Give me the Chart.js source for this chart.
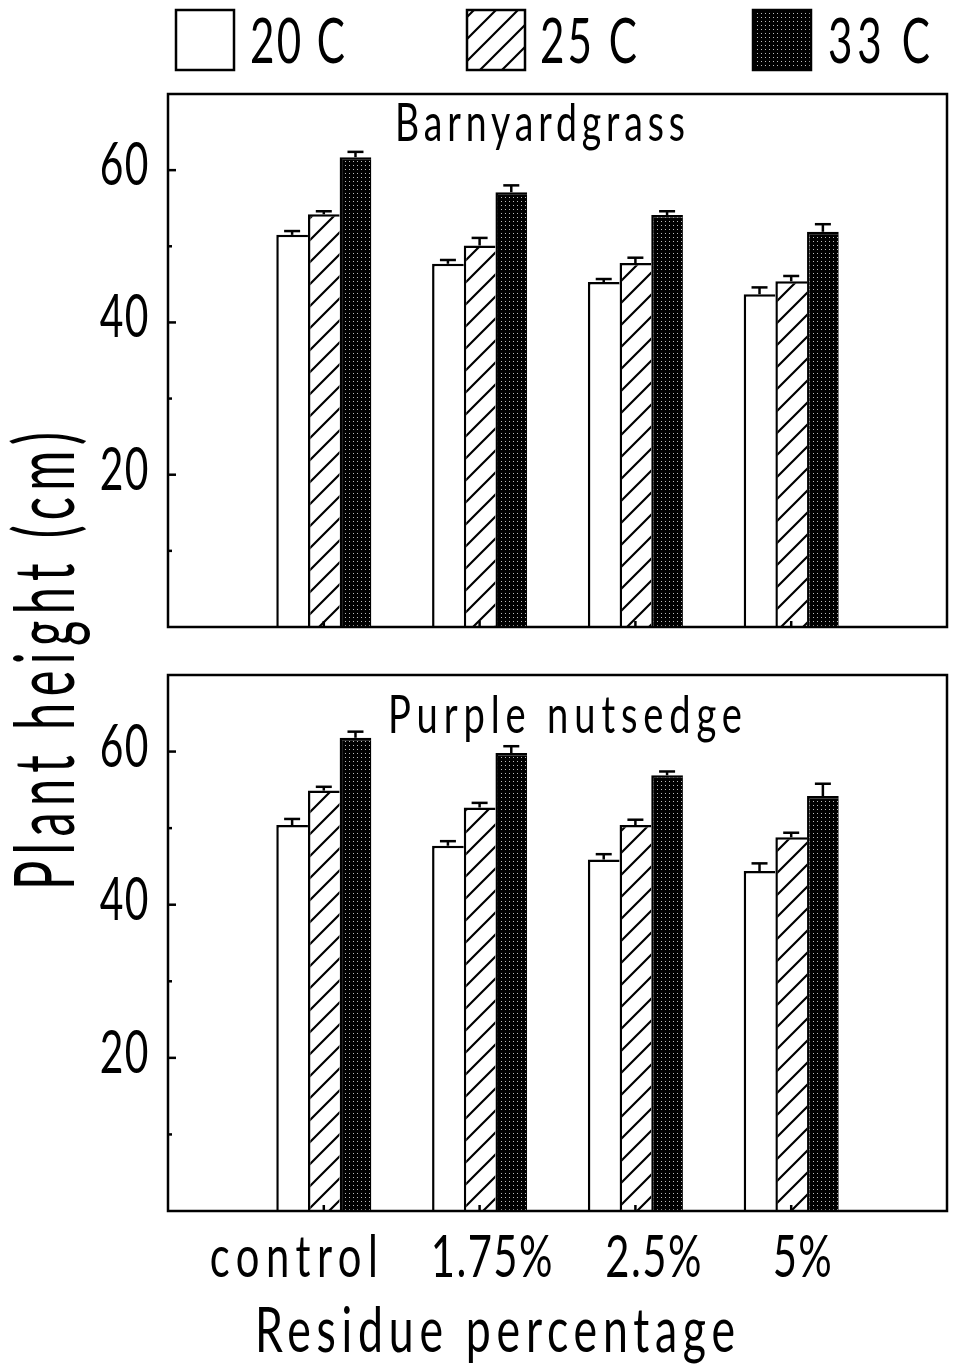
<!DOCTYPE html>
<html>
<head>
<meta charset="utf-8">
<script src="https://cdn.jsdelivr.net/npm/chart.js@4.4.1/dist/chart.umd.min.js"></script>
<style>
  html, body { margin: 0; padding: 0; background: #fff; }
  body { width: 955px; height: 1371px; position: relative; overflow: hidden; }
  canvas { position: absolute; left: 0; top: 0; }
</style>
</head>
<body>
<canvas id="panelTop" width="955" height="1371"></canvas>
<canvas id="panelBottom" width="955" height="1371"></canvas>
<script>
// categories / series / ticks
const categories = ['control', '1.75%', '2.5%', '5%'];
const seriesNames = ['20 C', '25 C', '33 C'];
const yTicks = [20, 40, 60];
const yMinorTicks = [10, 30, 50];

// Barnyardgrass - plant height (cm)
const barn20 = [51.5, 47.7, 45.3, 43.7];
const barn25 = [54.2, 50.1, 47.8, 45.4];
const barn33 = [61.7, 57.1, 54.1, 51.9];
const barn20Err = [0.5, 0.5, 0.4, 0.9];
const barn25Err = [0.4, 1.0, 0.7, 0.7];
const barn33Err = [0.7, 0.9, 0.5, 1.0];

// Purple nutsedge - plant height (cm)
const nut20 = [50.4, 47.7, 45.9, 44.4];
const nut25 = [54.9, 52.7, 50.4, 48.8];
const nut33 = [61.8, 59.8, 56.9, 54.2];
const nut20Err = [0.8, 0.6, 0.7, 1.0];
const nut25Err = [0.5, 0.6, 0.7, 0.6];
const nut33Err = [0.8, 0.9, 0.5, 1.6];

const FAMILY = 'Lato, "DejaVu Sans", sans-serif';

// fill patterns: open, hatched, stippled black
function hatchFill() {
    const c = document.createElement('canvas');
    c.width = c.height = 22;
    const g = c.getContext('2d');
    g.fillStyle = '#fff';
    g.fillRect(0, 0, 22, 22);
    g.strokeStyle = '#000';
    g.lineWidth = 2.2;
    g.beginPath();
    g.moveTo(-3, 25); g.lineTo(25, -3);
    g.moveTo(-3, 3); g.lineTo(3, -3);
    g.moveTo(19, 25); g.lineTo(25, 19);
    g.stroke();
    return g.createPattern(c, 'repeat');
}
function stippleFill() {
    const c = document.createElement('canvas');
    c.width = c.height = 4;
    const g = c.getContext('2d');
    g.fillStyle = '#000';
    g.fillRect(0, 0, 4, 4);
    g.fillStyle = '#bbb';
    g.fillRect(1, 1, 1, 1);
    return g.createPattern(c, 'repeat');
}
const fills = ['#fff', hatchFill(), stippleFill()];

// condensed text, spread out to a given width (never squeezed)
function fitText(ctx, text, x, y, width, size, sx, rot) {
    ctx.save();
    ctx.translate(x, y);
    if (rot) ctx.rotate(rot);
    ctx.scale(sx, 1);
    ctx.font = `400 ${size}px ${FAMILY}`;
    ctx.letterSpacing = '0px';
    const w0 = ctx.measureText(text).width;
    let gap = text.length > 1 ? (width / sx - w0) / (text.length - 1) : 0;
    gap = Math.max(gap, 2);
    const drawn = (w0 + gap * (text.length - 1)) * sx;
    ctx.letterSpacing = gap + 'px';
    ctx.textAlign = 'left';
    ctx.textBaseline = 'alphabetic';
    ctx.fillStyle = '#000';
    ctx.fillText(text, (width - drawn) / 2 / sx, 0);
    ctx.restore();
}

function seg(ctx, x1, y1, x2, y2) {
    ctx.beginPath();
    ctx.moveTo(x1, y1);
    ctx.lineTo(x2, y2);
    ctx.stroke();
}

const panelDecor = {
    id: 'panelDecor',
    afterDatasetsDraw(chart, args, o) {
        const ctx = chart.ctx;
        const a = chart.chartArea;
        const x = chart.scales.x, y = chart.scales.y;
        ctx.save();
        ctx.strokeStyle = '#000';
        ctx.lineWidth = 2.5;

        // error bars (upper only)
        chart.data.datasets.forEach((ds, di) => {
            chart.getDatasetMeta(di).data.forEach((bar, i) => {
                const v = ds.data[i], e = ds.errors[i];
                if (v == null || e == null) return;
                const yt = y.getPixelForValue(v + e);
                seg(ctx, bar.x, bar.y, bar.x, yt);
                seg(ctx, bar.x - 8, yt, bar.x + 8, yt);
            });
        });

        // frame
        ctx.strokeRect(a.left, a.top, a.right - a.left, a.bottom - a.top);

        // inward ticks
        yTicks.forEach(v => {
            const p = y.getPixelForValue(v);
            seg(ctx, a.left, p, a.left + 8, p);
        });
        yMinorTicks.forEach(v => {
            const p = y.getPixelForValue(v);
            seg(ctx, a.left, p, a.left + 4, p);
        });
        categories.forEach((c, i) => {
            const p = x.getPixelForValue(i + 1);
            seg(ctx, p, a.bottom, p, a.bottom - 6);
        });

        // y tick labels
        yTicks.forEach(v => {
            const p = y.getPixelForValue(v);
            const s = String(v);
            fitText(ctx, s, a.left - 22 - 22 * s.length, p + 15, 22 * s.length, 60, 0.68);
        });

        // panel title
        const t = o.title;
        fitText(ctx, t.text, t.x, t.y, t.width, t.size, 0.72);

        if (o.legend) {
            chart.data.datasets.forEach((ds, di) => {
                const bx = o.legend.boxX[di], tx = o.legend.textX[di];
                ctx.fillStyle = ds.backgroundColor;
                ctx.fillRect(bx, 10, 58, 60);
                ctx.strokeRect(bx, 10, 58, 60);
                fitText(ctx, ds.label, tx, 63, o.legend.textW[di], 62, 0.68);
            });
        }

        if (o.xLabels) {
            categories.forEach((c, i) => {
                const w = 24 * c.length;
                const cx = x.getPixelForValue(i + 1) + o.xLabels.shift[i];
                fitText(ctx, c, cx - w / 2, 1277, w, 58, 0.72);
            });
            fitText(ctx, 'Residue percentage', 255, 1352, 480, 62, 0.72);
            fitText(ctx, 'Plant height (cm)', 74, 890, 458, 84, 0.58, -Math.PI / 2);
        }
        ctx.restore();
    }
};

function buildDatasets(values, errors) {
    return seriesNames.map((name, s) => ({
        label: name,
        data: [null, ...values[s], null],
        errors: [null, ...errors[s], null],
        backgroundColor: fills[s],
        borderColor: '#000',
        borderWidth: { top: 2.5, left: 2.5, right: 0, bottom: 0 },
        borderSkipped: false
    }));
}

function makePanel(id, values, errors, padding, decor) {
    const ctx = document.getElementById(id).getContext('2d');
    return new Chart(ctx, {
        type: 'bar',
        data: {
            labels: ['', ...categories, ''],
            datasets: buildDatasets(values, errors)
        },
        options: {
            responsive: false,
            animation: false,
            devicePixelRatio: 1,
            layout: { padding: padding },
            categoryPercentage: 0.61,
            barPercentage: 1.0,
            plugins: {
                legend: { display: false },
                tooltip: { enabled: false },
                panelDecor: decor
            },
            scales: {
                x: { type: 'category', offset: false, display: false, grid: { display: false } },
                y: { min: 0, max: 70, display: false, grid: { display: false } }
            }
        },
        plugins: [panelDecor]
    });
}

makePanel('panelTop',
    [barn20, barn25, barn33],
    [barn20Err, barn25Err, barn33Err],
    { left: 168, top: 94, right: 8, bottom: 744 },
    {
        title: { text: 'Barnyardgrass', x: 395, y: 141, width: 290, size: 52 },
        legend: { boxX: [176, 467, 753], textX: [250, 540, 828], textW: [95, 97, 102] }
    });

makePanel('panelBottom',
    [nut20, nut25, nut33],
    [nut20Err, nut25Err, nut33Err],
    { left: 168, top: 675, right: 8, bottom: 160 },
    {
        title: { text: 'Purple nutsedge', x: 388, y: 733, width: 354, size: 53 },
        xLabels: { shift: [-30, 12, 18, 11] }
    });
</script>
</body>
</html>
